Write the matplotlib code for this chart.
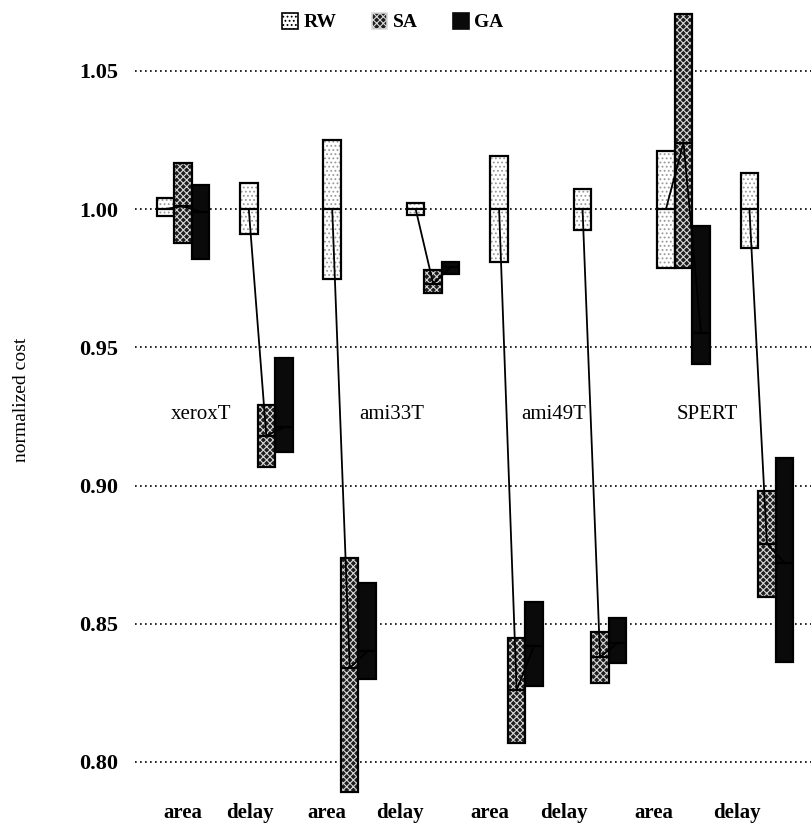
import numpy as np
import matplotlib
matplotlib.use("Agg")
import matplotlib.pyplot as plt
from matplotlib.patches import Patch

plt.rcParams['font.family'] = ['Liberation Serif', 'DejaVu Serif']
plt.rcParams['hatch.linewidth'] = 0.8

# categories
metrics = ['area', 'delay', 'area', 'delay', 'area', 'delay', 'area', 'delay']
benchmarks = ['xeroxT', 'ami33T', 'ami49T', 'SPERT']
algos = ['RW', 'SA', 'GA']

# normalized cost ranges (low, high) and medians, one entry per category
rw_low = [0.9975, 0.991, 0.9747, 0.998, 0.981, 0.9924, 0.9787, 0.986]
rw_high = [1.004, 1.0094, 1.025, 1.002, 1.019, 1.0072, 1.021, 1.013]
rw_med = [1.000, 1.000, 1.000, 1.000, 1.000, 1.000, 1.000, 1.000]

sa_low = [0.9877, 0.9067, 0.789, 0.9696, 0.807, 0.8285, 0.9787, 0.8596]
sa_high = [1.0166, 0.929, 0.8737, 0.978, 0.845, 0.847, 1.0705, 0.898]
sa_med = [1.001, 0.918, 0.834, 0.973, 0.826, 0.838, 1.024, 0.879]

ga_low = [0.9819, 0.912, 0.830, 0.9765, 0.8274, 0.8357, 0.944, 0.836]
ga_high = [1.0087, 0.946, 0.8647, 0.981, 0.858, 0.852, 0.9938, 0.910]
ga_med = [0.999, 0.921, 0.840, 0.979, 0.842, 0.843, 0.955, 0.872]

lows = [rw_low, sa_low, ga_low]
highs = [rw_high, sa_high, ga_high]
meds = [rw_med, sa_med, ga_med]

styles = [
    dict(face='white', hatch='....', hcol='#999999'),
    dict(face='#1e1e1e', hatch='xxxxx', hcol='#d8d8d8'),
    dict(face='#0a0a0a', hatch=None, hcol='#0a0a0a'),
]

fig = plt.figure(figsize=(8.12, 8.24), dpi=100)
ax = fig.add_axes([0.166, 0.035, 0.834, 0.965])

x = np.arange(len(metrics))
w = 0.21
offsets = [-w, 0, w]

for k in range(3):
    lo = np.array(lows[k])
    hi = np.array(highs[k])
    st = styles[k]
    ax.bar(x + offsets[k], hi - lo, bottom=lo, width=w, color=st['face'],
           edgecolor=st['hcol'], hatch=st['hatch'], linewidth=0, zorder=2)
    ax.bar(x + offsets[k], hi - lo, bottom=lo, width=w, color='none',
           edgecolor='black', linewidth=1.6, zorder=3)
    ax.hlines(meds[k], x + offsets[k] - w / 2, x + offsets[k] + w / 2,
              color='black', linewidth=1.6, zorder=3)

# lines linking the medians RW -> SA -> GA
for i in range(len(metrics)):
    ax.plot([x[i] + o for o in offsets], [m[i] for m in meds],
            color='black', linewidth=1.3, zorder=4)

label_x = [0.22, 2.5, 4.44, 6.28]
for j, name in enumerate(benchmarks):
    ax.text(label_x[j], 0.9255, name, ha='center', va='center', fontsize=15)

ax.set_xlim(-0.576, 7.54)
ax.set_ylim(0.788, 1.0756)
ax.set_yticks([0.80, 0.85, 0.90, 0.95, 1.00, 1.05])
ax.set_yticklabels(['0.80', '0.85', '0.90', '0.95', '1.00', '1.05'],
                   fontsize=16, fontweight='bold')
ax.set_xticks([0, 0.80, 1.73, 2.60, 3.68, 4.57, 5.65, 6.64])
ax.set_xticklabels(metrics, fontsize=15, fontweight='bold')
ax.tick_params(axis='both', length=0)
ax.tick_params(axis='y', pad=12)
ax.tick_params(axis='x', pad=6)
ax.yaxis.grid(True, linestyle=(0, (1, 2)), color='black', linewidth=1.2, zorder=0)
ax.set_axisbelow(True)
for s in ax.spines.values():
    s.set_visible(False)

fig.text(0.027, 0.515, 'normalized cost', rotation=90, ha='center', va='center',
         fontsize=14)

handles = [Patch(facecolor=st['face'], edgecolor=st['hcol'] if k else 'black',
                 hatch=st['hatch'], linewidth=1.2) for k, st in enumerate(styles)]
fig.legend(handles, algos, loc='upper center', bbox_to_anchor=(0.484, 1.006),
           ncol=3, frameon=False, prop=dict(size=14, weight='bold'),
           handlelength=0.8, handleheight=0.9, columnspacing=1.8, handletextpad=0.3)

fig.savefig('out.png', dpi=100)
